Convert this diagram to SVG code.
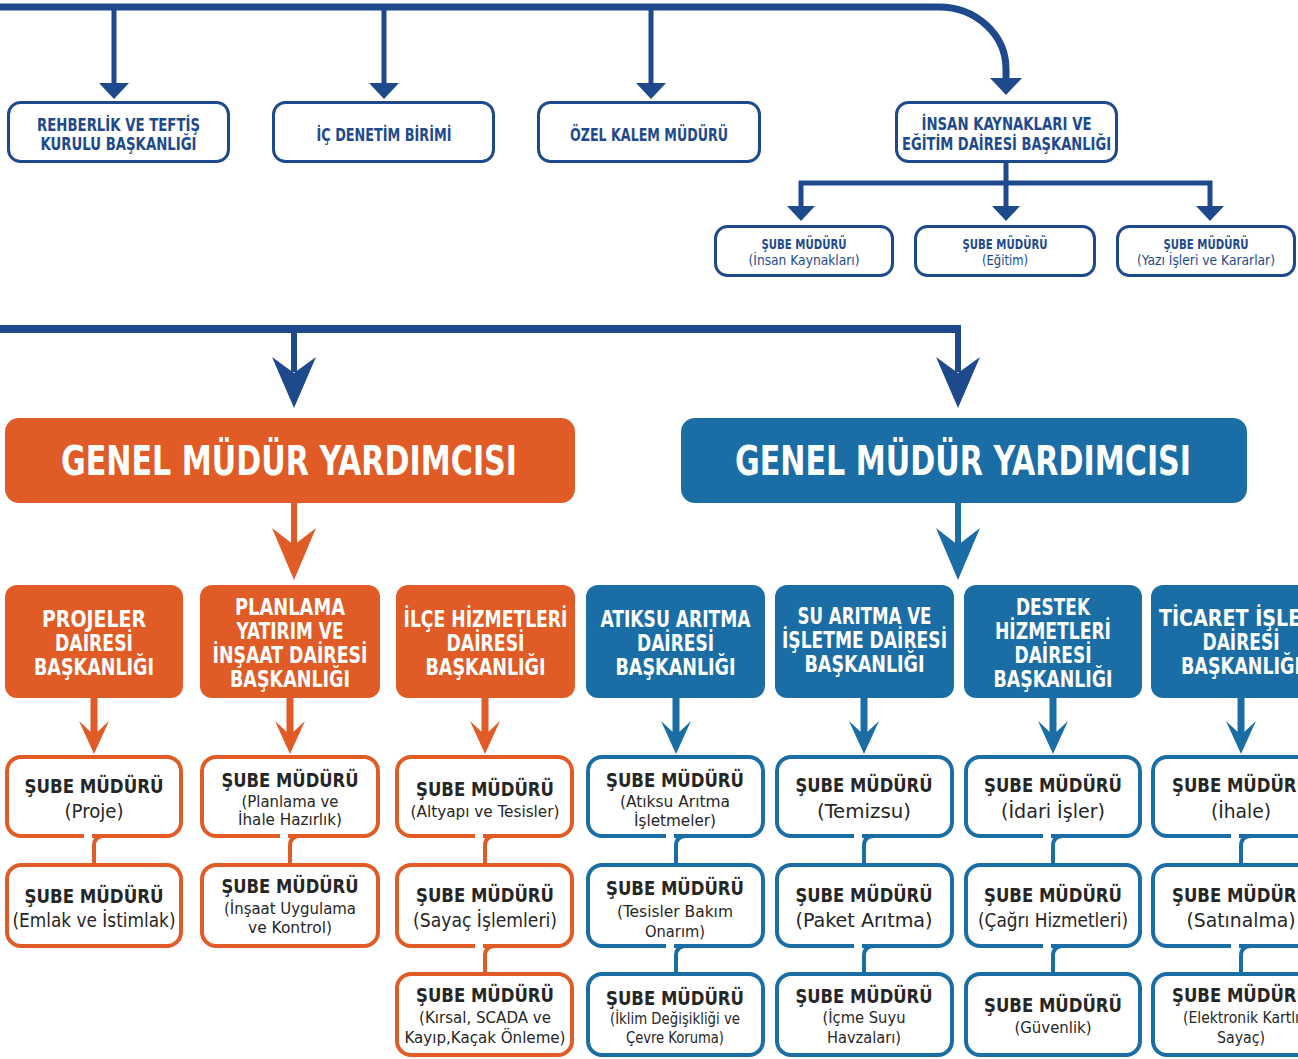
<svg xmlns="http://www.w3.org/2000/svg" width="1298" height="1059" viewBox="0 0 1298 1059">
<style>
text{font-family:"Liberation Sans Narrow","DejaVu Sans Condensed","Liberation Sans",sans-serif;text-anchor:middle;font-weight:bold}
.tb{fill:#1e4a8d;font-size:18px}
.tbs{fill:#1e4a8d;font-size:14px}
.tbn{fill:#1e4a8d;font-size:13.5px;font-weight:normal}
.gmy{fill:#fff;font-size:40px}
.dt{fill:#fff;font-size:23px}
.sh{fill:#262626;font-size:20px}
.s1{fill:#262626;font-size:19px;font-weight:normal}
.s2{fill:#262626;font-size:16px;font-weight:normal}
.topbox{fill:#fff;stroke:#1e4a8d;stroke-width:3}
.orbox{fill:#fff;stroke:#e05b25;stroke-width:4}
.blbox{fill:#fff;stroke:#1b6ea5;stroke-width:4}
.navy{stroke:#1e4a8d;fill:none}
.nf{fill:#1e4a8d}
.or{stroke:#e05b25;fill:none}
.of{fill:#e05b25}
.bl{stroke:#1b6ea5;fill:none}
.bf{fill:#1b6ea5}
</style>
<rect width="1298" height="1059" fill="#fff"/>

<g id="connectors">
  <path class="navy" stroke-width="7" d="M-5,7 H939 A67 62 0 0 1 1006,69 V80"/>
  <path class="navy" stroke-width="5" d="M114,7 V85 M384,7 V85 M651,7 V85"/>
  <path class="nf" d="M99,83 H129 L114,99 Z M369,83 H399 L384,99 Z M636,83 H666 L651,99 Z M990,78 H1022 L1006,95 Z"/>
  <path class="navy" stroke-width="5" d="M1006,163 V185 M801,208 V183 H1210 V208 M1006,183 V208"/>
  <path class="nf" d="M787,206 H815 L801,221 Z M992,206 H1020 L1006,221 Z M1196,206 H1224 L1210,221 Z"/>
  <path class="navy" stroke-width="8" d="M-5,329 H958"/>
  <path class="navy" stroke-width="6" d="M294,329 V372 M958,325 V372"/>
  <path class="nf" d="M272,357 L294,408 L316,357 L294,373 Z M936,357 L958,408 L980,357 L958,373 Z"/>
  <path class="or" stroke-width="6" d="M294,503 V546"/>
  <path class="of" d="M272,528 L294,580 L316,528 L294,545 Z"/>
  <path class="bl" stroke-width="6" d="M958,503 V546"/>
  <path class="bf" d="M936,528 L958,580 L980,528 L958,545 Z"/>
  <path class="or" stroke-width="7" d="M94,698 V736 M290,698 V736 M485,698 V736"/>
  <path class="of" d="M79,721 L94,754 L109,721 L94,735 Z M275,721 L290,754 L305,721 L290,735 Z M470,721 L485,754 L500,721 L485,735 Z"/>
  <path class="bl" stroke-width="7" d="M676,698 V736 M864,698 V736 M1053,698 V736 M1241,698 V736"/>
  <path class="bf" d="M661,721 L676,754 L691,721 L676,735 Z M849,721 L864,754 L879,721 L864,735 Z M1038,721 L1053,754 L1068,721 L1053,735 Z M1226,721 L1241,754 L1256,721 L1241,735 Z"/>
</g>

<g id="top-boxes">
  <g id="n-rehberlik"><rect class="topbox" x="8.5" y="102.5" width="220" height="59" rx="12"/>
    <text class="tb" x="118.5" y="131" textLength="163" lengthAdjust="spacingAndGlyphs">REHBERLİK VE TEFTİŞ</text>
    <text class="tb" x="118.5" y="150" textLength="156" lengthAdjust="spacingAndGlyphs">KURULU BAŞKANLIĞI</text></g>
  <g id="n-icdenetim"><rect class="topbox" x="273.5" y="102.5" width="220" height="59" rx="12"/>
    <text class="tb" x="384" y="141" textLength="135" lengthAdjust="spacingAndGlyphs">İÇ DENETİM BİRİMİ</text></g>
  <g id="n-ozelkalem"><rect class="topbox" x="538.5" y="102.5" width="221" height="59" rx="12"/>
    <text class="tb" x="649" y="141" textLength="158" lengthAdjust="spacingAndGlyphs">ÖZEL KALEM MÜDÜRÜ</text></g>
  <g id="n-insankaynaklari"><rect class="topbox" x="896.5" y="102.5" width="220" height="59" rx="12"/>
    <text class="tb" x="1006.5" y="130" textLength="170" lengthAdjust="spacingAndGlyphs">İNSAN KAYNAKLARI VE</text>
    <text class="tb" x="1006.5" y="150" textLength="209" lengthAdjust="spacingAndGlyphs">EĞİTİM DAİRESİ BAŞKANLIĞI</text></g>
  <g id="n-ik-sube1"><rect class="topbox" x="715.5" y="226.5" width="177" height="49" rx="12"/>
    <text class="tbs" x="804" y="249" textLength="85" lengthAdjust="spacingAndGlyphs">ŞUBE MÜDÜRÜ</text>
    <text class="tbn" x="804" y="265" textLength="111" lengthAdjust="spacingAndGlyphs">(İnsan Kaynakları)</text></g>
  <g id="n-ik-sube2"><rect class="topbox" x="915.5" y="226.5" width="179" height="49" rx="12"/>
    <text class="tbs" x="1005" y="249" textLength="85" lengthAdjust="spacingAndGlyphs">ŞUBE MÜDÜRÜ</text>
    <text class="tbn" x="1005" y="265" textLength="46" lengthAdjust="spacingAndGlyphs">(Eğitim)</text></g>
  <g id="n-ik-sube3"><rect class="topbox" x="1117.5" y="226.5" width="177" height="49" rx="12"/>
    <text class="tbs" x="1206" y="249" textLength="85" lengthAdjust="spacingAndGlyphs">ŞUBE MÜDÜRÜ</text>
    <text class="tbn" x="1206" y="265" textLength="138" lengthAdjust="spacingAndGlyphs">(Yazı İşleri ve Kararlar)</text></g>
</g>

<g id="n-gmy-orange"><rect class="of" x="5" y="418" width="570" height="85" rx="14"/>
  <text class="gmy" x="289" y="475" textLength="456" lengthAdjust="spacingAndGlyphs">GENEL MÜDÜR YARDIMCISI</text></g>
<g id="n-gmy-blue"><rect class="bf" x="681" y="418" width="566" height="85" rx="14"/>
  <text class="gmy" x="963" y="475" textLength="456" lengthAdjust="spacingAndGlyphs">GENEL MÜDÜR YARDIMCISI</text></g>

<g id="departments">
  <g id="n-projeler"><rect class="of" x="5" y="585" width="178" height="113" rx="12"/>
    <text class="dt" x="94" y="627" textLength="104" lengthAdjust="spacingAndGlyphs">PROJELER</text>
    <text class="dt" x="94" y="651" textLength="78" lengthAdjust="spacingAndGlyphs">DAİRESİ</text>
    <text class="dt" x="94" y="675" textLength="120" lengthAdjust="spacingAndGlyphs">BAŞKANLIĞI</text></g>
  <g id="n-planlama"><rect class="of" x="200" y="585" width="180" height="113" rx="12"/>
    <text class="dt" x="290" y="615" textLength="110" lengthAdjust="spacingAndGlyphs">PLANLAMA</text>
    <text class="dt" x="290" y="639" textLength="107" lengthAdjust="spacingAndGlyphs">YATIRIM VE</text>
    <text class="dt" x="290" y="663" textLength="155" lengthAdjust="spacingAndGlyphs">İNŞAAT DAİRESİ</text>
    <text class="dt" x="290" y="687" textLength="120" lengthAdjust="spacingAndGlyphs">BAŞKANLIĞI</text></g>
  <g id="n-ilce"><rect class="of" x="396" y="585" width="179" height="113" rx="12"/>
    <text class="dt" x="485.5" y="627" textLength="164" lengthAdjust="spacingAndGlyphs">İLÇE HİZMETLERİ</text>
    <text class="dt" x="485.5" y="651" textLength="78" lengthAdjust="spacingAndGlyphs">DAİRESİ</text>
    <text class="dt" x="485.5" y="675" textLength="120" lengthAdjust="spacingAndGlyphs">BAŞKANLIĞI</text></g>
  <g id="n-atiksu"><rect class="bf" x="586" y="585" width="179" height="113" rx="12"/>
    <text class="dt" x="675.5" y="627" textLength="150" lengthAdjust="spacingAndGlyphs">ATIKSU ARITMA</text>
    <text class="dt" x="675.5" y="651" textLength="77" lengthAdjust="spacingAndGlyphs">DAİRESİ</text>
    <text class="dt" x="675.5" y="675" textLength="120" lengthAdjust="spacingAndGlyphs">BAŞKANLIĞI</text></g>
  <g id="n-suaritma"><rect class="bf" x="775" y="585" width="179" height="113" rx="12"/>
    <text class="dt" x="864.5" y="624" textLength="134" lengthAdjust="spacingAndGlyphs">SU ARITMA VE</text>
    <text class="dt" x="864.5" y="648" textLength="165" lengthAdjust="spacingAndGlyphs">İŞLETME DAİRESİ</text>
    <text class="dt" x="864.5" y="672" textLength="120" lengthAdjust="spacingAndGlyphs">BAŞKANLIĞI</text></g>
  <g id="n-destek"><rect class="bf" x="964" y="585" width="178" height="113" rx="12"/>
    <text class="dt" x="1053" y="615" textLength="74" lengthAdjust="spacingAndGlyphs">DESTEK</text>
    <text class="dt" x="1053" y="639" textLength="116" lengthAdjust="spacingAndGlyphs">HİZMETLERİ</text>
    <text class="dt" x="1053" y="663" textLength="77" lengthAdjust="spacingAndGlyphs">DAİRESİ</text>
    <text class="dt" x="1053" y="687" textLength="119" lengthAdjust="spacingAndGlyphs">BAŞKANLIĞI</text></g>
  <g id="n-ticaret"><rect class="bf" x="1151" y="585" width="180" height="113" rx="12"/>
    <text class="dt" x="1241" y="626" textLength="164" lengthAdjust="spacingAndGlyphs">TİCARET İŞLERİ</text>
    <text class="dt" x="1241" y="650" textLength="77" lengthAdjust="spacingAndGlyphs">DAİRESİ</text>
    <text class="dt" x="1241" y="674" textLength="120" lengthAdjust="spacingAndGlyphs">BAŞKANLIĞI</text></g>
</g>

<g id="sube-boxes">
  <g id="n-c1r1"><rect class="orbox" x="7" y="757" width="174" height="79" rx="14"/>
    <text class="sh" x="94" y="793" textLength="139" lengthAdjust="spacingAndGlyphs">ŞUBE MÜDÜRÜ</text>
    <text class="s1" x="94" y="818" textLength="59" lengthAdjust="spacingAndGlyphs">(Proje)</text></g>
  <g id="n-c1r2"><rect class="orbox" x="7" y="865" width="174" height="81" rx="14"/>
    <text class="sh" x="94" y="903" textLength="139" lengthAdjust="spacingAndGlyphs">ŞUBE MÜDÜRÜ</text>
    <text class="s1" x="94" y="927" textLength="163" lengthAdjust="spacingAndGlyphs">(Emlak ve İstimlak)</text></g>
  <g id="n-c2r1"><rect class="orbox" x="202" y="757" width="176" height="79" rx="14"/>
    <text class="sh" x="290" y="787" textLength="137" lengthAdjust="spacingAndGlyphs">ŞUBE MÜDÜRÜ</text>
    <text class="s2" x="290" y="807" textLength="97" lengthAdjust="spacingAndGlyphs">(Planlama ve</text>
    <text class="s2" x="290" y="825" textLength="104" lengthAdjust="spacingAndGlyphs">İhale Hazırlık)</text></g>
  <g id="n-c2r2"><rect class="orbox" x="202" y="865" width="176" height="81" rx="14"/>
    <text class="sh" x="290" y="893" textLength="137" lengthAdjust="spacingAndGlyphs">ŞUBE MÜDÜRÜ</text>
    <text class="s2" x="290" y="914" textLength="132" lengthAdjust="spacingAndGlyphs">(İnşaat Uygulama</text>
    <text class="s2" x="290" y="933" textLength="84" lengthAdjust="spacingAndGlyphs">ve Kontrol)</text></g>
  <g id="n-c3r1"><rect class="orbox" x="397" y="757" width="175" height="79" rx="14"/>
    <text class="sh" x="485" y="796" textLength="138" lengthAdjust="spacingAndGlyphs">ŞUBE MÜDÜRÜ</text>
    <text class="s2" x="485" y="817" textLength="149" lengthAdjust="spacingAndGlyphs">(Altyapı ve Tesisler)</text></g>
  <g id="n-c3r2"><rect class="orbox" x="397" y="865" width="175" height="81" rx="14"/>
    <text class="sh" x="485" y="902" textLength="138" lengthAdjust="spacingAndGlyphs">ŞUBE MÜDÜRÜ</text>
    <text class="s1" x="485" y="927" textLength="144" lengthAdjust="spacingAndGlyphs">(Sayaç İşlemleri)</text></g>
  <g id="n-c3r3"><rect class="orbox" x="397" y="974" width="175" height="81" rx="14"/>
    <text class="sh" x="485" y="1002" textLength="138" lengthAdjust="spacingAndGlyphs">ŞUBE MÜDÜRÜ</text>
    <text class="s2" x="485" y="1023" textLength="132" lengthAdjust="spacingAndGlyphs">(Kırsal, SCADA ve</text>
    <text class="s2" x="485" y="1043" textLength="161" lengthAdjust="spacingAndGlyphs">Kayıp,Kaçak Önleme)</text></g>
  <g id="n-c4r1"><rect class="blbox" x="588" y="757" width="175" height="79" rx="14"/>
    <text class="sh" x="675" y="787" textLength="138" lengthAdjust="spacingAndGlyphs">ŞUBE MÜDÜRÜ</text>
    <text class="s2" x="675" y="807" textLength="110" lengthAdjust="spacingAndGlyphs">(Atıksu Arıtma</text>
    <text class="s2" x="675" y="826" textLength="82" lengthAdjust="spacingAndGlyphs">İşletmeler)</text></g>
  <g id="n-c4r2"><rect class="blbox" x="588" y="865" width="175" height="81" rx="14"/>
    <text class="sh" x="675" y="895" textLength="138" lengthAdjust="spacingAndGlyphs">ŞUBE MÜDÜRÜ</text>
    <text class="s2" x="675" y="917" textLength="116" lengthAdjust="spacingAndGlyphs">(Tesisler Bakım</text>
    <text class="s2" x="675" y="937" textLength="60" lengthAdjust="spacingAndGlyphs">Onarım)</text></g>
  <g id="n-c4r3"><rect class="blbox" x="588" y="974" width="175" height="81" rx="14"/>
    <text class="sh" x="675" y="1005" textLength="138" lengthAdjust="spacingAndGlyphs">ŞUBE MÜDÜRÜ</text>
    <text class="s2" x="675" y="1024" textLength="130" lengthAdjust="spacingAndGlyphs">(İklim Değişikliği ve</text>
    <text class="s2" x="675" y="1043" textLength="98" lengthAdjust="spacingAndGlyphs">Çevre Koruma)</text></g>
  <g id="n-c5r1"><rect class="blbox" x="777" y="757" width="175" height="79" rx="14"/>
    <text class="sh" x="864" y="792" textLength="137" lengthAdjust="spacingAndGlyphs">ŞUBE MÜDÜRÜ</text>
    <text class="s1" x="864" y="818" textLength="94" lengthAdjust="spacingAndGlyphs">(Temizsu)</text></g>
  <g id="n-c5r2"><rect class="blbox" x="777" y="865" width="175" height="81" rx="14"/>
    <text class="sh" x="864" y="902" textLength="137" lengthAdjust="spacingAndGlyphs">ŞUBE MÜDÜRÜ</text>
    <text class="s1" x="864" y="927" textLength="137" lengthAdjust="spacingAndGlyphs">(Paket Arıtma)</text></g>
  <g id="n-c5r3"><rect class="blbox" x="777" y="974" width="175" height="81" rx="14"/>
    <text class="sh" x="864" y="1003" textLength="137" lengthAdjust="spacingAndGlyphs">ŞUBE MÜDÜRÜ</text>
    <text class="s2" x="864" y="1023" textLength="83" lengthAdjust="spacingAndGlyphs">(İçme Suyu</text>
    <text class="s2" x="864" y="1043" textLength="74" lengthAdjust="spacingAndGlyphs">Havzaları)</text></g>
  <g id="n-c6r1"><rect class="blbox" x="966" y="757" width="174" height="79" rx="14"/>
    <text class="sh" x="1053" y="792" textLength="138" lengthAdjust="spacingAndGlyphs">ŞUBE MÜDÜRÜ</text>
    <text class="s1" x="1053" y="818" textLength="104" lengthAdjust="spacingAndGlyphs">(İdari İşler)</text></g>
  <g id="n-c6r2"><rect class="blbox" x="966" y="865" width="174" height="81" rx="14"/>
    <text class="sh" x="1053" y="902" textLength="138" lengthAdjust="spacingAndGlyphs">ŞUBE MÜDÜRÜ</text>
    <text class="s1" x="1053" y="927" textLength="150" lengthAdjust="spacingAndGlyphs">(Çağrı Hizmetleri)</text></g>
  <g id="n-c6r3"><rect class="blbox" x="966" y="974" width="174" height="81" rx="14"/>
    <text class="sh" x="1053" y="1012" textLength="138" lengthAdjust="spacingAndGlyphs">ŞUBE MÜDÜRÜ</text>
    <text class="s2" x="1053" y="1033" textLength="77" lengthAdjust="spacingAndGlyphs">(Güvenlik)</text></g>
  <g id="n-c7r1"><rect class="blbox" x="1153" y="757" width="180" height="79" rx="14"/>
    <text class="sh" x="1241" y="792" textLength="138" lengthAdjust="spacingAndGlyphs">ŞUBE MÜDÜRÜ</text>
    <text class="s1" x="1241" y="818" textLength="60" lengthAdjust="spacingAndGlyphs">(İhale)</text></g>
  <g id="n-c7r2"><rect class="blbox" x="1153" y="865" width="180" height="81" rx="14"/>
    <text class="sh" x="1241" y="902" textLength="138" lengthAdjust="spacingAndGlyphs">ŞUBE MÜDÜRÜ</text>
    <text class="s1" x="1241" y="927" textLength="109" lengthAdjust="spacingAndGlyphs">(Satınalma)</text></g>
  <g id="n-c7r3"><rect class="blbox" x="1153" y="974" width="180" height="81" rx="14"/>
    <text class="sh" x="1241" y="1002" textLength="138" lengthAdjust="spacingAndGlyphs">ŞUBE MÜDÜRÜ</text>
    <text class="s2" x="1241" y="1023" textLength="116" lengthAdjust="spacingAndGlyphs">(Elektronik Kartlı</text>
    <text class="s2" x="1241" y="1043" textLength="48" lengthAdjust="spacingAndGlyphs">Sayaç)</text></g>
</g>

<g id="junctions">
  <g fill="#fff">
    <rect x="84" y="833" width="8" height="6"/><rect x="280" y="833" width="8" height="6"/><rect x="475" y="833" width="8" height="6"/>
    <rect x="666" y="833" width="8" height="6"/><rect x="854" y="833" width="8" height="6"/><rect x="1043" y="833" width="8" height="6"/><rect x="1231" y="833" width="8" height="6"/>
    <rect x="475" y="943" width="8" height="6"/><rect x="666" y="943" width="8" height="6"/><rect x="854" y="943" width="8" height="6"/><rect x="1043" y="943" width="8" height="6"/><rect x="1231" y="943" width="8" height="6"/>
  </g>
  <path class="or" stroke-width="4" d="M104,836 Q94,836 94,846 V865 M300,836 Q290,836 290,846 V865 M495,836 Q485,836 485,846 V865 M495,946 Q485,946 485,956 V974"/>
  <path class="bl" stroke-width="4" d="M686,836 Q676,836 676,846 V865 M874,836 Q864,836 864,846 V865 M1063,836 Q1053,836 1053,846 V865 M1251,836 Q1241,836 1241,846 V865 M686,946 Q676,946 676,956 V974 M874,946 Q864,946 864,956 V974 M1063,946 Q1053,946 1053,956 V974 M1251,946 Q1241,946 1241,956 V974"/>
</g>
</svg>
